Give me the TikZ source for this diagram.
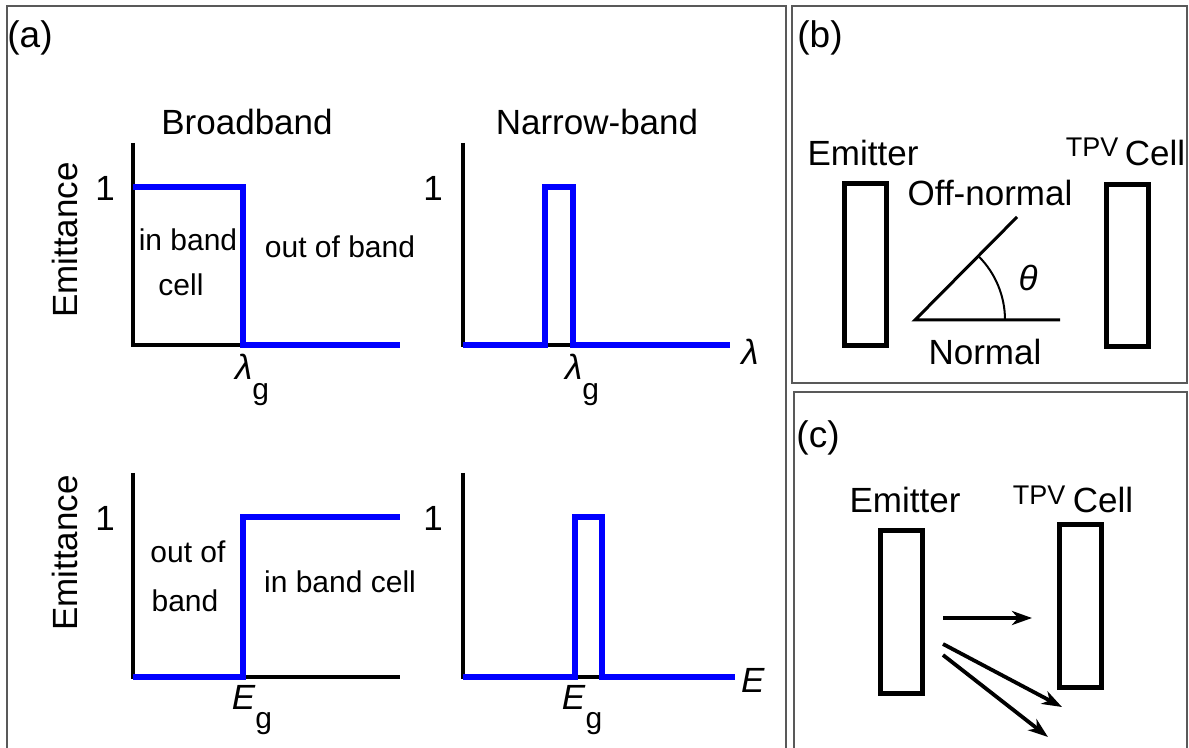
\documentclass[tikz,border=0pt]{standalone}
\usepackage{fontspec}
\setmainfont{Liberation Sans}
\usetikzlibrary{arrows.meta}
\newcommand{\subg}{\raisebox{-0.55em}{\fontsize{15}{15}\selectfont g}}
\tikzset{
  marco/.style={draw=black!65, line width=0.8pt},
  eje/.style={line width=2.2pt},
  curva/.style={blue, line width=2.6pt},
  caja/.style={draw, line width=2.5pt, inner sep=0pt, minimum width=21pt, minimum height=81pt},
  etiq/.style={font=\fontsize{18.5}{20}\selectfont},
  texto/.style={font=\fontsize{17.5}{19}\selectfont},
  dentro/.style={font=\fontsize{15}{17}\selectfont},
  chico/.style={font=\fontsize{13.5}{15}\selectfont},
  rayo/.style={line width=1.9pt, -{Stealth[length=10pt,width=7pt,inset=3pt]}}
}
\begin{document}
\begin{tikzpicture}[x=0.5pt,y=-0.5pt]
  \useasboundingbox (0,0) rectangle (1189,748);
  % Marcos
  \draw[marco] (7,760) -- (7,6) -- (786,6) -- (786,760);
  \draw[marco] (792,6) rectangle (1187,383);
  \draw[marco] (794,760) -- (794,392) -- (1187,392) -- (1187,760);
  \node[etiq] (la) at (30,38) {(a)};
  \node[etiq] (lb) at (820,38) {(b)};
  \node[etiq] (lc) at (818,438) {(c)};

  % (a) banda ancha, longitud de onda
  \node[texto] (bb) at (247,122) {Broadband};
  \node[texto] (nb) at (597,122) {Narrow-band};
  \node[texto, rotate=90] (em1) at (65,240) {Emittance};
  \node[texto] (u1) at (105,188) {1};
  \draw[eje] (133,143) -- (133,345) -- (400,345);
  \draw[curva] (133,187) -- (243,187) -- (243,345) -- (400,345);
  \node[dentro] (ib1) at (188,240) {in band};
  \node[dentro] (ce1) at (181,285) {cell};
  \node[dentro] (ob1) at (340,247) {out of band};
  \node[texto] (lg1) at (252,380) {\textit{λ}\subg};

  % (a) banda estrecha, longitud de onda
  \node[texto] (u2) at (433,188) {1};
  \draw[eje] (463,143) -- (463,345) -- (730,345);
  \draw[curva] (463,345) -- (545,345) -- (545,187) -- (573,187) -- (573,345) -- (730,345);
  \node[texto] (lam) at (750,352) {\textit{λ}};
  \node[texto] (lg2) at (582,380) {\textit{λ}\subg};

  % (a) banda ancha, energia
  \node[texto, rotate=90] (em2) at (65,553) {Emittance};
  \node[texto] (u3) at (105,518) {1};
  \draw[eje] (133,473) -- (133,677) -- (400,677);
  \draw[curva] (133,677) -- (243,677) -- (243,517) -- (400,517);
  \node[dentro] (of3) at (188,552) {out of};
  \node[dentro] (ba3) at (185,601) {band};
  \node[dentro] (ib3) at (340,582) {in band cell};
  \node[texto] (eg1) at (252,710) {\textit{E}\subg};

  % (a) banda estrecha, energia
  \node[texto] (u4) at (433,518) {1};
  \draw[eje] (463,473) -- (463,677) -- (735,677);
  \draw[curva] (463,677) -- (575,677) -- (575,517) -- (602,517) -- (602,677) -- (735,677);
  \node[texto] (ee) at (753,680) {\textit{E}};
  \node[texto] (eg2) at (582,710) {\textit{E}\subg};

  % (b) angulo
  \node[caja] (emb) at (865,265) {};
  \node[caja] (tpvb) at (1127,266) {};
  \node[texto] (emtb) at (863,153) {Emitter};
  \node[chico] (tpvtb) at (1092,147) {TPV};
  \node[texto] (celb) at (1155,153) {Cell};
  \coordinate (o) at (915,320);
  \coordinate (n) at (1060,320);
  \coordinate (p) at (1017,217);
  \draw[line width=1.5pt] (n) -- (o) -- (p);
  \draw[line width=1pt] (1005,320) arc[start angle=0, end angle=-45, radius=90];
  \node[texto] (th) at (1028,278) {\textit{θ}};
  \node[texto] (off) at (990,193) {Off-normal};
  \node[texto] (nor) at (985,352) {Normal};

  % (c) rayos
  \node[caja] (emc) at (901,612) {};
  \node[caja] (tpvc) at (1080,606) {};
  \node[texto] (emtc) at (905,500) {Emitter};
  \node[chico] (tpvtc) at (1039,495) {TPV};
  \node[texto] (celc) at (1103,500) {Cell};
  \coordinate (r1) at (943,618);
  \coordinate (r2) at (943,644);
  \coordinate (r3) at (943,655);
  \coordinate (f1) at (1032,618);
  \coordinate (f2) at (1062,707);
  \coordinate (f3) at (1048,737);
  \draw[rayo] (r1) -- (f1);
  \draw[rayo] (r2) -- (f2);
  \draw[rayo] (r3) -- (f3);
\end{tikzpicture}
\end{document}
